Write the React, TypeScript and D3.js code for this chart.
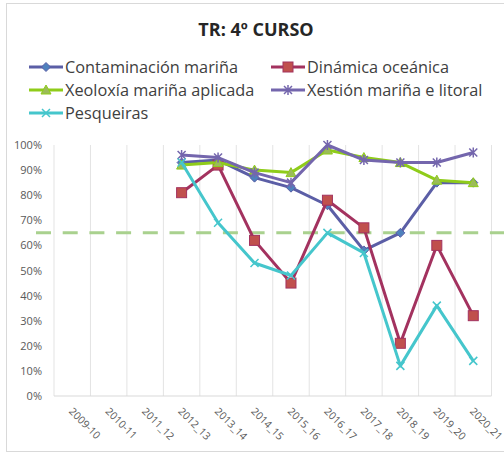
import React from "react";
import * as d3 from "d3";

const categories = ["2009-10", "2010-11", "2011_12", "2012_13", "2013_14", "2014_15", "2015_16", "2016_17", "2017_18", "2018_19", "2019_20", "2020_21"];
const contaminacion = [null, null, null, 93, 94, 87, 83, 76, 58, 65, 85, 85];
const dinamica = [null, null, null, 81, 92, 62, 45, 78, 67, 21, 60, 32];
const xeoloxia = [null, null, null, 92, 93, 90, 89, 98, 95, 93, 86, 85];
const xestion = [null, null, null, 96, 95, 89, 85, 100, 94, 93, 93, 97];
const pesqueiras = [null, null, null, 93, 69, 53, 48, 65, 57, 12, 36, 14];
const yTicks = [0, 10, 20, 30, 40, 50, 60, 70, 80, 90, 100];
const threshold = 65;
const title = "TR: 4º CURSO";

type Series = { name: string; values: (number | null)[]; line: string; fill: string; marker: string };
const seriesList: Series[] = [
  { name: "Contaminación mariña", values: contaminacion, line: "#5b5ea6", fill: "#4f81bd", marker: "diamond" },
  { name: "Dinámica oceánica", values: dinamica, line: "#a3325f", fill: "#c0504d", marker: "square" },
  { name: "Xeoloxía mariña aplicada", values: xeoloxia, line: "#8fcc1a", fill: "#9bbb59", marker: "triangle" },
  { name: "Xestión mariña e litoral", values: xestion, line: "#7466ad", fill: "#8064a2", marker: "cross" },
  { name: "Pesqueiras", values: pesqueiras, line: "#45c6cc", fill: "#4bacc6", marker: "x" },
];

const W = 504, H = 455;
const left = 54, right = 491.5, top = 145, bottom = 396;

function Marker({ type, x, y, s }: { type: string; x: number; y: number; s: Series }) {
  if (type === "diamond") {
    const r = 4.5;
    return <path d={`M${x},${y - r}L${x + r},${y}L${x},${y + r}L${x - r},${y}Z`} fill={s.fill} stroke={s.line} strokeWidth={1} />;
  }
  if (type === "square") {
    return <rect x={x - 5} y={y - 5} width={10} height={10} fill={s.fill} stroke={s.line} strokeWidth={1} />;
  }
  if (type === "triangle") {
    const r = 5;
    return <path d={`M${x},${y - r}L${x + r},${y + r * 0.8}L${x - r},${y + r * 0.8}Z`} fill={s.fill} stroke={s.line} strokeWidth={1} />;
  }
  if (type === "cross") {
    const r = 4;
    return <path d={`M${x - r},${y - r}L${x + r},${y + r}M${x - r},${y + r}L${x + r},${y - r}M${x},${y - r - 1}L${x},${y + r + 1}`} stroke={s.line} strokeWidth={1.5} fill="none" />;
  }
  const r = 4;
  return <path d={`M${x - r},${y - r}L${x + r},${y + r}M${x - r},${y + r}L${x + r},${y - r}`} stroke={s.line} strokeWidth={1.5} fill="none" />;
}

export default function App() {
  const x = d3.scaleBand<string>().domain(categories).range([left, right]);
  const y = d3.scaleLinear().domain([0, 100]).range([bottom, top]);
  const cx = (c: string) => (x(c) as number) + x.bandwidth() / 2;

  const legendItems = [
    { s: seriesList[0], lx: 29, ly: 67 },
    { s: seriesList[1], lx: 271, ly: 67 },
    { s: seriesList[2], lx: 29, ly: 90 },
    { s: seriesList[3], lx: 271, ly: 90 },
    { s: seriesList[4], lx: 29, ly: 113 },
  ];

  return (
    <svg width={W} height={H} style={{ position: "absolute", left: 0, top: 0 }} fontFamily="'Open Sans', 'Liberation Sans', Arial, sans-serif">
      <rect x={0} y={0} width={W} height={H} fill="#fff" />
      <rect x={6.5} y={3.5} width={520} height={448} fill="none" stroke="#d9d9d9" strokeWidth={1} />
      <text x={256} y={36} textAnchor="middle" fontSize={18} fontWeight="bold" fill="#262626">{title}</text>

      {legendItems.map(({ s, lx, ly }) => (
        <g key={s.name}>
          <line x1={lx} x2={lx + 34} y1={ly} y2={ly} stroke={s.line} strokeWidth={3} />
          <Marker type={s.marker} x={lx + 17} y={ly} s={s} />
          <text x={lx + 36} y={ly + 5.5} fontSize={16.3} fill="#404040">{s.name}</text>
        </g>
      ))}

      {/* vertical gridlines */}
      {d3.range(categories.length + 1).map((i) => {
        const gx = left + i * x.step();
        return <line key={i} x1={gx} x2={gx} y1={top} y2={bottom} stroke="#e3e3e3" strokeWidth={1} />;
      })}
      <line x1={left} x2={right} y1={bottom} y2={bottom} stroke="#d9d9d9" strokeWidth={1} />

      {yTicks.map((t) => (
        <text key={t} x={42} y={y(t) + 4} textAnchor="end" fontSize={11} fill="#595959">{t}%</text>
      ))}

      {categories.map((c) => (
        <text key={c} x={0} y={0} transform={`translate(${cx(c) - 4},${bottom + 16}) rotate(45)`} fontSize={10.5} fill="#595959">{c}</text>
      ))}

      <line x1={36} x2={W} y1={y(threshold)} y2={y(threshold)} stroke="#a9d18e" strokeWidth={3} strokeDasharray="15 11.7" />

      {seriesList.map((s) => {
        const pts = categories.map((c, i) => ({ c, v: s.values[i] })).filter((p) => p.v !== null) as { c: string; v: number }[];
        const gen = d3.line<{ c: string; v: number }>().x((p) => cx(p.c)).y((p) => y(p.v));
        return (
          <g key={s.name}>
            <path d={gen(pts) || ""} fill="none" stroke={s.line} strokeWidth={3} strokeLinejoin="round" />
            {pts.map((p) => <Marker key={p.c} type={s.marker} x={cx(p.c)} y={y(p.v)} s={s} />)}
          </g>
        );
      })}
    </svg>
  );
}
